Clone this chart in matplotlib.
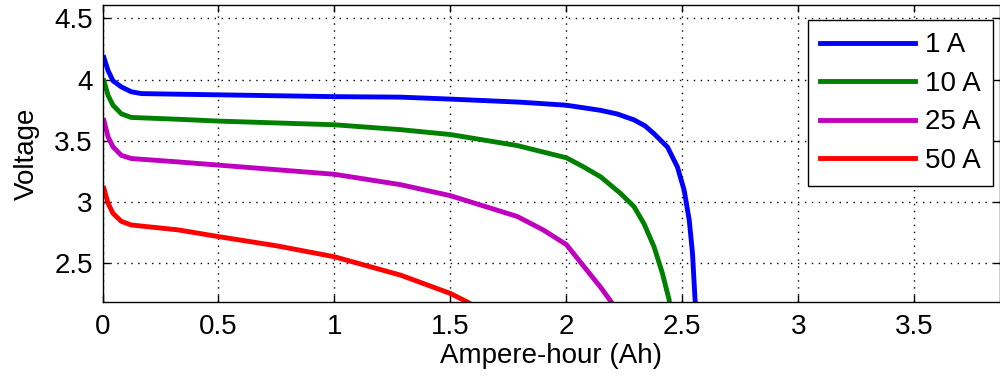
import matplotlib
matplotlib.use('Agg')
import matplotlib.pyplot as plt

# discharge curves: capacity (Ah) vs voltage
ah_1a = [0.006, 0.024, 0.045, 0.081, 0.124, 0.168, 0.326, 0.5, 1.0, 1.285,
         1.5, 1.8, 2.0, 2.148, 2.22, 2.292, 2.34, 2.378, 2.436, 2.479, 2.508,
         2.53, 2.544, 2.555, 2.558]
v_1a = [4.18, 4.073, 3.99, 3.94, 3.90, 3.885, 3.88, 3.875, 3.86, 3.856,
        3.84, 3.815, 3.79, 3.748, 3.718, 3.67, 3.62, 3.557, 3.448, 3.285, 3.095,
        2.85, 2.58, 2.20, 2.15]

ah_10a = [0.006, 0.024, 0.045, 0.081, 0.124, 0.326, 0.5, 1.0, 1.285, 1.5,
          1.788, 2.0, 2.07, 2.148, 2.234, 2.292, 2.335, 2.378, 2.414, 2.443,
          2.447]
v_10a = [3.99, 3.87, 3.79, 3.72, 3.69, 3.675, 3.66, 3.63, 3.59, 3.55,
         3.46, 3.36, 3.29, 3.204, 3.068, 2.96, 2.82, 2.633, 2.416, 2.20, 2.15]

ah_25a = [0.006, 0.024, 0.045, 0.081, 0.124, 0.326, 0.5, 1.0, 1.285, 1.5,
          1.788, 1.9, 2.0, 2.076, 2.148, 2.194, 2.2]
v_25a = [3.666, 3.53, 3.45, 3.38, 3.354, 3.326, 3.30, 3.225, 3.14, 3.05,
         2.88, 2.77, 2.65, 2.47, 2.30, 2.18, 2.15]

ah_50a = [0.006, 0.024, 0.045, 0.081, 0.124, 0.326, 0.5, 0.75, 1.0, 1.285,
          1.5, 1.573, 1.6]
v_50a = [3.11, 2.987, 2.906, 2.84, 2.81, 2.77, 2.715, 2.64, 2.55, 2.40,
         2.25, 2.18, 2.15]

labels = ['1 A', '10 A', '25 A', '50 A']
cols = ['#0000ff', '#008000', '#bf00bf', '#ff0000']

xticks = [0, 0.5, 1, 1.5, 2, 2.5, 3, 3.5]
yticks = [2.5, 3, 3.5, 4, 4.5]

plt.rcParams['font.family'] = ['Liberation Sans', 'DejaVu Sans']
plt.rcParams['font.size'] = 20

fig = plt.figure(figsize=(10, 3.83), dpi=100)
ax = fig.add_axes([0.1025, 0.2115, 0.8975, 0.7755])

series = [(ah_1a, v_1a), (ah_10a, v_10a), (ah_25a, v_25a), (ah_50a, v_50a)]
for (x, y), lab, c in zip(series, labels, cols):
    ax.plot(x, y, color=c, linewidth=3.5, label=lab)

ax.set_xlim(0, 3.87)
ax.set_ylim(2.18, 4.61)
ax.set_xticks(xticks)
ax.set_xticklabels(['0', '0.5', '1', '1.5', '2', '2.5', '3', '3.5'])
ax.set_yticks(yticks)
ax.set_yticklabels(['2.5', '3', '3.5', '4', '4.5'])

ax.grid(True, color='black', linestyle=(0, (1, 4)), linewidth=1)
ax.tick_params(direction='in', length=5, width=1, top=True, right=True)
ax.tick_params(axis='x', pad=9)
ax.tick_params(axis='y', pad=7)
for s in ax.spines.values():
    s.set_linewidth(1)

ax.set_xlabel('Ampere-hour (Ah)', labelpad=2)
ax.set_ylabel('Voltage', labelpad=10)

leg = ax.legend(loc='upper right', bbox_to_anchor=(0.992, 0.95),
                fancybox=False, edgecolor='black', framealpha=1,
                handlelength=3.4, handletextpad=0.35, labelspacing=0.45,
                borderpad=0.45, borderaxespad=0)
leg.get_frame().set_linewidth(1)

fig.savefig('out.png', dpi=100)
